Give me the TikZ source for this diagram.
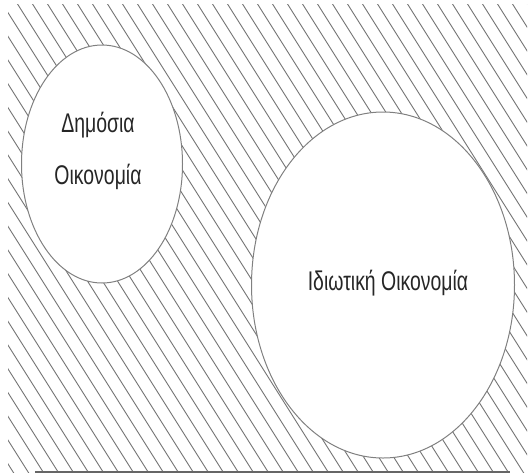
\documentclass[tikz,border=0pt]{standalone}
\usepackage{fontspec}
\newfontfamily\narrowsans[FakeStretch=0.72]{Liberation Sans}
\usetikzlibrary{shapes.geometric}

\begin{document}
\begin{tikzpicture}[x=1pt, y=-1pt,
    hatch/.style={draw=black!55, line width=0.9pt},
    econ/.style={ellipse, draw=black!50, fill=white, line width=1pt, inner sep=0pt},
    lab/.style={font=\fontsize{27}{52}\selectfont\narrowsans, text=black!85, align=center}]

    \useasboundingbox (0,0) rectangle (530,475);

    % Hatching
    \begin{scope}
      \clip (8,4) rectangle (527,472);
      \foreach \i in {-22,...,36}{
        \draw[hatch] (\i*15, 0) -- (\i*15+300, 475);
      }
    \end{scope}
    \coordinate (BL) at (35,472);
    \coordinate (BR) at (510,472);
    \draw[black!60, line width=1.4pt] (BL) -- (BR);

    % Public and private economy
    \node[econ, minimum width=161pt, minimum height=238pt] (PUB) at (102,164) {};
    \node[econ, minimum width=263pt, minimum height=346pt] (PRIV) at (383,285) {};
    \node[lab] (PUBT) at (98,151) {Δημόσια\\Οικονομία};
    \node[lab] (PRIVT) at (388,283) {Ιδιωτική Οικονομία};

\end{tikzpicture}
\end{document}
